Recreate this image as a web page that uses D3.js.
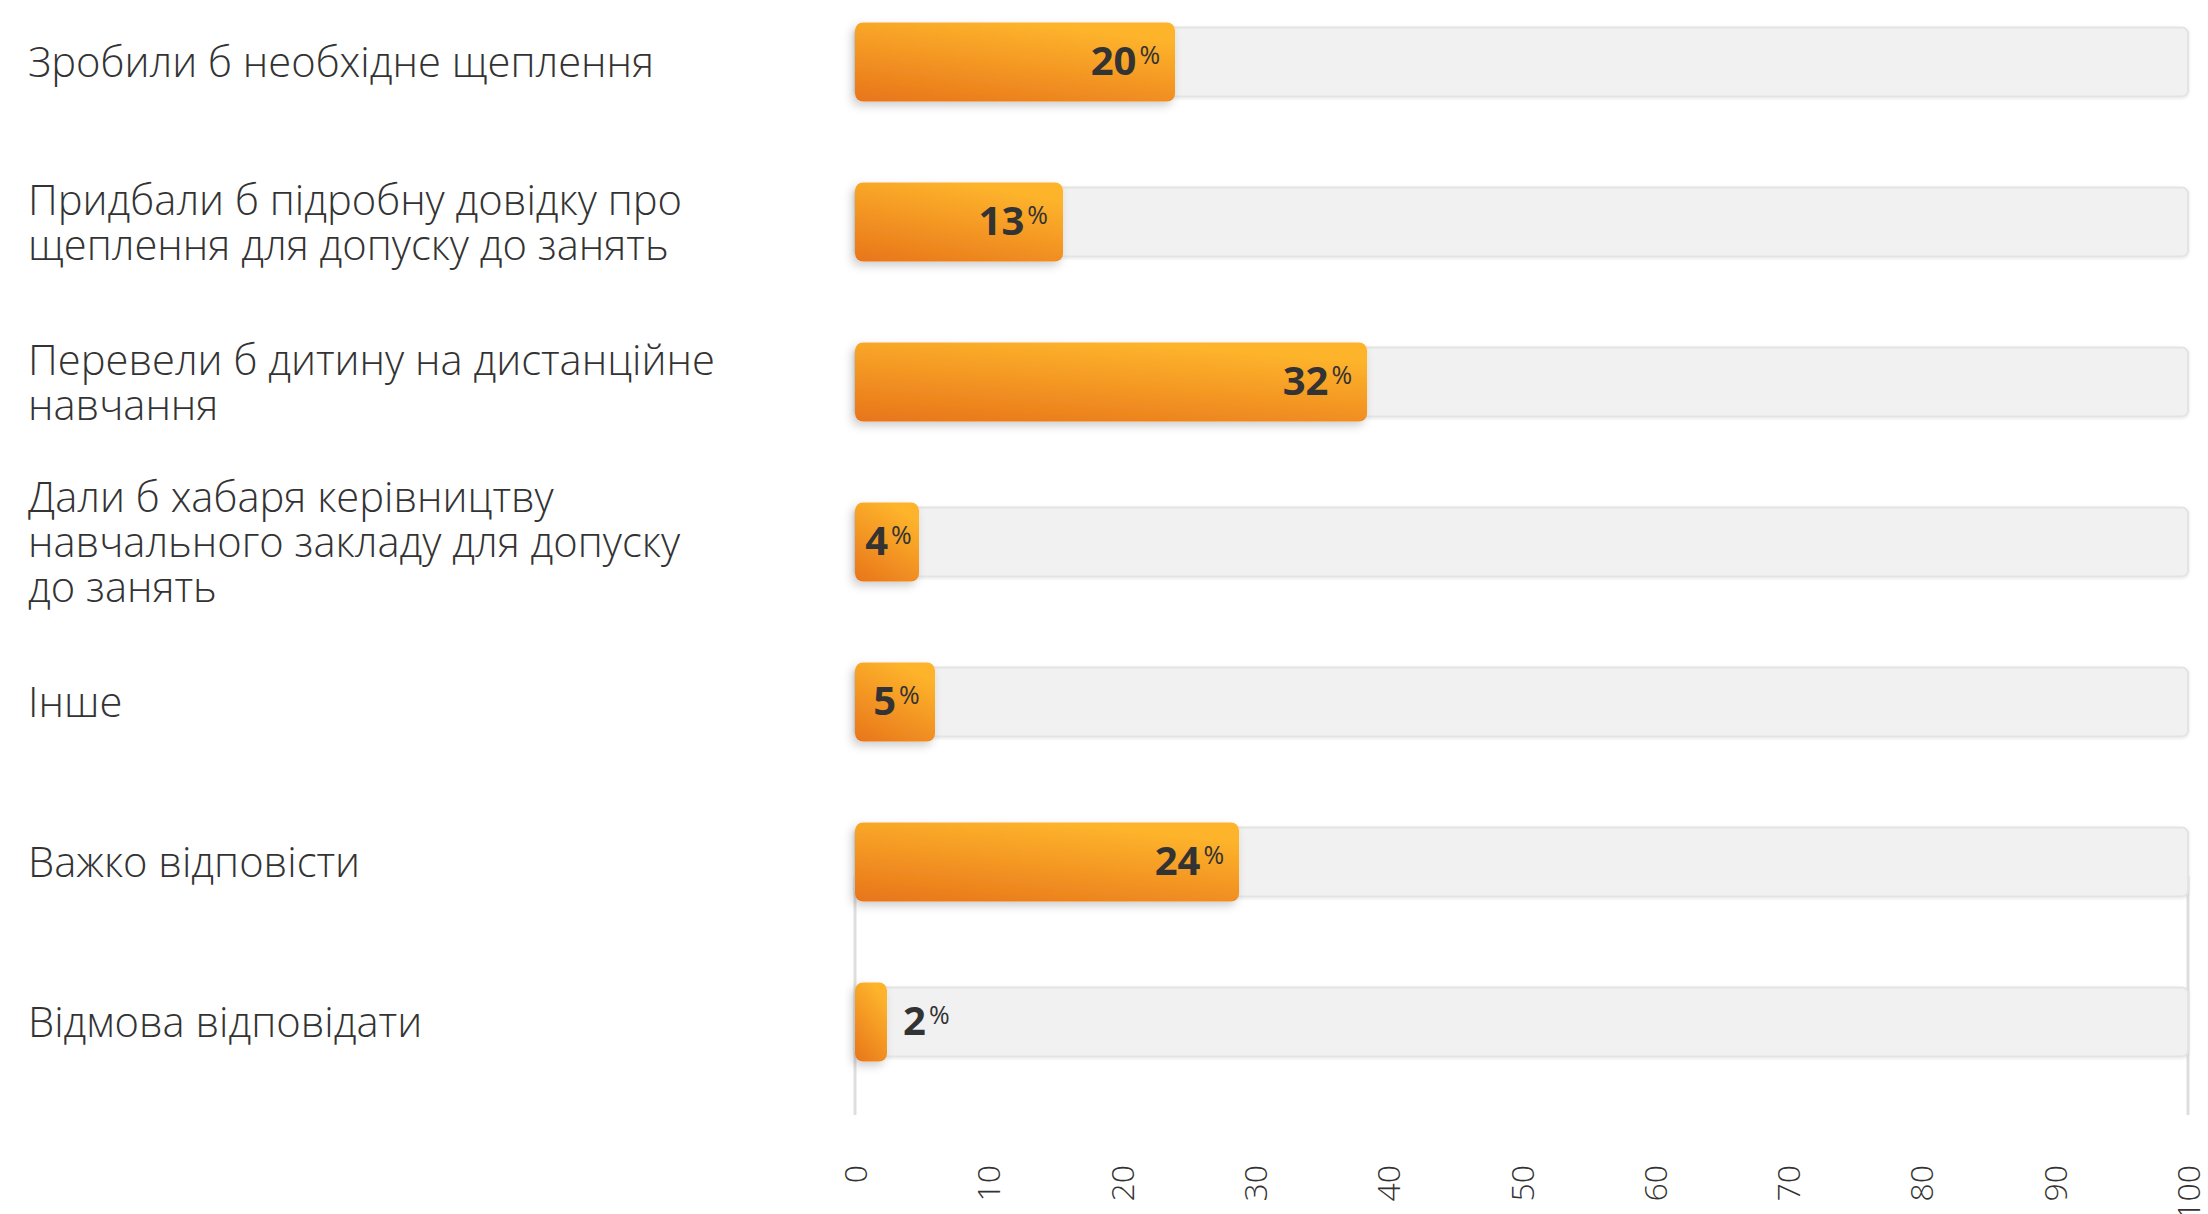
<!DOCTYPE html>
<html>
<head>
<meta charset="utf-8">
<script src="https://cdn.jsdelivr.net/npm/d3@7"></script>
<style>
  html, body { margin: 0; padding: 0; background: #ffffff; }
  svg { display: block; }
</style>
</head>
<body>
<svg id="chart" width="2208" height="1214"></svg>
<script>
// ---- data ----
const categories = [
  "Зробили б необхідне щеплення",
  "Придбали б підробну довідку про щеплення для допуску до занять",
  "Перевели б дитину на дистанційне навчання",
  "Дали б хабаря керівництву навчального закладу для допуску до занять",
  "Інше",
  "Важко відповісти",
  "Відмова відповідати"
];
const values = [20, 13, 32, 4, 5, 24, 2];
const tickValues = [0, 10, 20, 30, 40, 50, 60, 70, 80, 90, 100];
const barMax = 83.3; // bars in the original are drawn against this maximum

// ---- layout ----
const axisLeft = 855, axisRight = 2188;
const firstRow = 62, lastRow = 1022;
const barH = 79, trackH = 69;
const labelFont = "'Open Sans', 'Noto Sans', sans-serif";
const labelSize = 41.7, lineH = 45, wrapWidth = 698;

const svg = d3.select("#chart");

const x = d3.scaleLinear().domain([0, 100]).range([axisLeft, axisRight]);
const xBar = d3.scaleLinear().domain([0, barMax]).range([axisLeft, axisRight]);
const y = d3.scalePoint().domain(categories).range([firstRow, lastRow]);

// defs
const defs = svg.append("defs");
const grad = defs.append("linearGradient").attr("id", "barGrad")
  .attr("x1", 0).attr("y1", 1).attr("x2", 0.5).attr("y2", 0);
grad.append("stop").attr("offset", "0%").attr("stop-color", "#E8751A");
grad.append("stop").attr("offset", "100%").attr("stop-color", "#FDB32B");

const sh = defs.append("filter").attr("id", "barShadow")
  .attr("x", "-30%").attr("y", "-40%").attr("width", "160%").attr("height", "190%");
sh.append("feDropShadow").attr("dx", -3).attr("dy", 4).attr("stdDeviation", 5)
  .attr("flood-color", "#000").attr("flood-opacity", 0.2);

const tsh = defs.append("filter").attr("id", "trackShadow")
  .attr("x", "-5%").attr("y", "-30%").attr("width", "110%").attr("height", "160%");
tsh.append("feDropShadow").attr("dx", 0).attr("dy", 1).attr("stdDeviation", 1.5)
  .attr("flood-color", "#000").attr("flood-opacity", 0.1);

// axis lines (only visible in lower region, as in the original)
const axisTop = 876, axisBottom = 1115;
svg.append("g").selectAll("line")
  .data([0, 100]).join("line")
  .attr("x1", d => x(d)).attr("x2", d => x(d))
  .attr("y1", axisTop).attr("y2", axisBottom)
  .attr("stroke", "#dedede").attr("stroke-width", 3);

// tracks
svg.append("g").selectAll("rect")
  .data(categories).join("rect")
  .attr("x", x(0)).attr("y", d => y(d) - trackH / 2)
  .attr("width", x(100) - x(0)).attr("height", trackH)
  .attr("rx", 6).attr("ry", 6)
  .attr("fill", "#f1f1f1")
  .attr("stroke", "#e4e4e4").attr("stroke-width", 2)
  .attr("filter", "url(#trackShadow)");

// bars
const rows = categories.map((c, i) => ({ c, v: values[i] }));
svg.append("g").selectAll("rect")
  .data(rows).join("rect")
  .attr("x", xBar(0)).attr("y", d => y(d.c) - barH / 2)
  .attr("width", d => xBar(d.v) - xBar(0)).attr("height", barH)
  .attr("rx", 8).attr("ry", 8)
  .attr("fill", "url(#barGrad)")
  .attr("filter", "url(#barShadow)");

// value labels
const vg = svg.append("g");
rows.forEach(d => {
  const t = vg.append("text")
    .attr("y", y(d.c) + 13)
    .attr("font-family", "'Open Sans', 'Noto Sans', sans-serif")
    .attr("fill", "#333333");
  t.append("tspan").attr("font-size", 40).attr("font-weight", 700).text(d.v);
  t.append("tspan").attr("font-size", 25).attr("font-weight", 400)
    .attr("dx", 3).attr("dy", -11).text("%");
  const w = t.node().getComputedTextLength();
  const x0 = xBar(0), x1 = xBar(d.v), bw = x1 - x0;
  let left;
  if (bw > w + 40) left = x1 - 18 - w;
  else if (bw > w + 4) left = x0 + (bw - w) / 2;
  else left = x1 + 16;
  t.attr("x", left);
});

// category labels, wrapped
const cg = svg.append("g");
const measure = cg.append("text").attr("font-family", labelFont)
  .attr("font-size", labelSize).attr("font-weight", 300);
function wrap(str) {
  const words = str.split(" ");
  const lines = [];
  let cur = "";
  words.forEach(wd => {
    const test = cur ? cur + " " + wd : wd;
    measure.text(test);
    if (measure.node().getComputedTextLength() > wrapWidth && cur) {
      lines.push(cur); cur = wd;
    } else cur = test;
  });
  if (cur) lines.push(cur);
  return lines;
}
categories.forEach(c => {
  const lines = wrap(c);
  const n = lines.length;
  const t = cg.append("text")
    .attr("font-family", labelFont).attr("font-size", labelSize)
    .attr("font-weight", 300).attr("fill", "#333333");
  lines.forEach((ln, i) => {
    t.append("tspan").attr("x", 28)
      .attr("y", y(c) + (i - (n - 1) / 2) * lineH)
      .attr("dy", "0.36em").text(ln);
  });
});
measure.remove();

// x tick labels (rotated)
const xAxis = d3.axisBottom(x).tickValues(tickValues).tickSize(0).tickFormat(d3.format("d"));
const ag = svg.append("g").attr("transform", `translate(0, 1165)`).call(xAxis);
ag.select(".domain").remove();
ag.selectAll("text")
  .attr("font-family", labelFont).attr("font-size", 32).attr("font-weight", 300)
  .attr("fill", "#333")
  .attr("transform", "rotate(-90)")
  .attr("text-anchor", "end")
  .attr("x", 0).attr("y", 0).attr("dy", "0.36em");
</script>
</body>
</html>
